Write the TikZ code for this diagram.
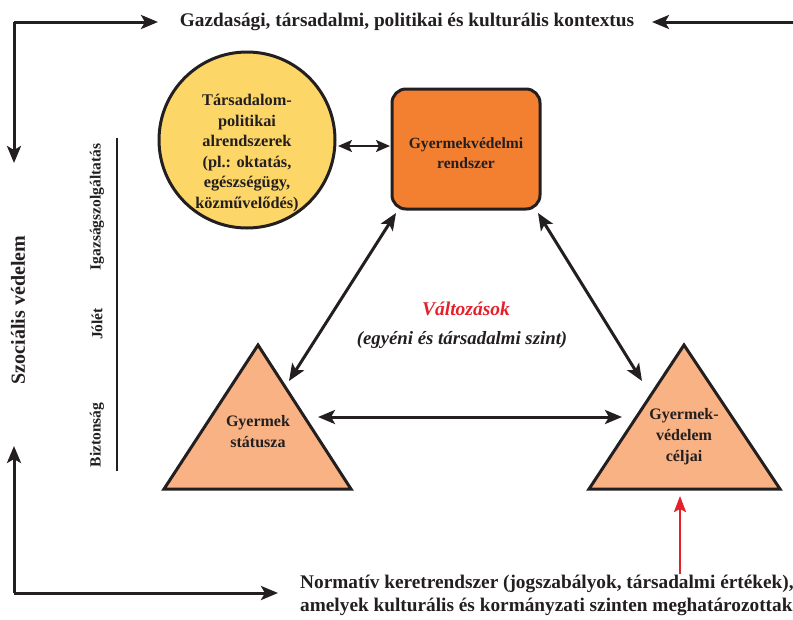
\documentclass[tikz,border=0pt]{standalone}
\usepackage{fontspec}
\setmainfont{Liberation Serif}
\usetikzlibrary{arrows.meta}
\definecolor{ink}{HTML}{231F20}
\definecolor{circfill}{HTML}{FDD668}
\definecolor{rectfill}{HTML}{F28030}
\definecolor{trifill}{HTML}{F8B283}
\definecolor{redc}{HTML}{E5202A}
\tikzset{
  tip/.tip={Stealth[length=17pt,width=14pt,inset=4pt]},
  conn/.style={draw=ink, line width=3pt, -tip},
  dconn/.style={draw=ink, line width=3pt, tip-tip},
  lbl/.style={text=ink, font=\fontsize{15}{19}\selectfont\bfseries, align=center, inner sep=0pt},
  vlbl/.style={text=ink, font=\fontsize{15.5}{16}\selectfont\bfseries, rotate=90, inner sep=0pt},
  tri/.style={draw=ink, line width=3pt, fill=trifill, line join=miter}
}
\begin{document}
\begin{tikzpicture}[x=1pt,y=-1pt]
\useasboundingbox (0,0) rectangle (793,619);
% top title
\node[lbl, font=\fontsize{19.3}{19}\selectfont\bfseries] (top) at (407,22) {Gazdasági, társadalmi, politikai és kulturális kontextus};
% frame arrows
\coordinate (tlc) at (14,22);
\coordinate (tla) at (158,22);
\coordinate (tld) at (14,163);
\coordinate (tre) at (793,22);
\coordinate (tra) at (652,22);
\coordinate (blc) at (14,593);
\coordinate (blu) at (14,446);
\coordinate (blr) at (278,593);
\draw[conn] (tlc) -- (tla);
\draw[conn] (tlc) -- (tld);
\draw[conn] (tre) -- (tra);
\draw[conn] (blc) -- (blu);
\draw[conn] (blc) -- (blr);
% left labels
\node[text=ink, font=\fontsize{20}{22}\selectfont\bfseries, rotate=90, inner sep=0pt] (szoc) at (18,310) {Szociális védelem};
\node[vlbl] (igaz) at (97,207) {Igazságszolgáltatás};
\node[vlbl] (jolet) at (97,324) {Jólét};
\node[vlbl] (bizt) at (97,435) {Biztonság};
\coordinate (rulet) at (117,138);
\coordinate (ruleb) at (117,471);
\draw[ink, line width=2.6pt] (rulet) -- (ruleb);
% circle
\node[circle, draw=ink, line width=3pt, fill=circfill, minimum size=176pt, inner sep=0pt] (circ) at (247,140) {};
\node[lbl, font=\fontsize{16.3}{20.5}\selectfont\bfseries] (circt) at (247,153) {Társadalom-\\politikai\\alrendszerek\\(pl.: oktatás,\\egészségügy,\\közművelődés)};
% rectangle
\node[draw=ink, line width=3pt, fill=rectfill, rounded corners=14pt, minimum width=148pt, minimum height=120pt, inner sep=0pt] (rect) at (466,149) {};
\node[lbl, font=\fontsize{15.6}{20}\selectfont\bfseries] (rectt) at (466,153) {Gyermekvédelmi\\rendszer};
% triangles
\coordinate (lta) at (258,345);
\coordinate (ltl) at (164,489);
\coordinate (ltr) at (351,489);
\draw[tri] (lta) -- (ltr) -- (ltl) -- cycle;
\coordinate (rta) at (684,345);
\coordinate (rtl) at (589,489);
\coordinate (rtr) at (780,489);
\draw[tri] (rta) -- (rtr) -- (rtl) -- cycle;
\node[lbl, font=\fontsize{16}{21}\selectfont\bfseries] (ltt) at (258,432) {Gyermek\\státusza};
\node[lbl, font=\fontsize{16}{21}\selectfont\bfseries] (rtt) at (684,437) {Gyermek-\\védelem\\céljai};
% centre text
\node[text=redc, font=\fontsize{19.5}{19}\selectfont\bfseries\itshape, inner sep=0pt] (valt) at (466,309) {Változások};
\node[text=ink, font=\fontsize{18.8}{19}\selectfont\bfseries\itshape, inner sep=0pt] (szint) at (462,340) {(egyéni és társadalmi szint)};
% connectors
\coordinate (cr1) at (338,146);
\coordinate (cr2) at (390,146);
\draw[draw=ink, line width=2.2pt, {Stealth[length=14pt,width=12pt,inset=3pt]}-{Stealth[length=14pt,width=12pt,inset=3pt]}] (cr1) -- (cr2);
\coordinate (d1a) at (396,213);
\coordinate (d1b) at (289,381);
\draw[dconn] (d1a) -- (d1b);
\coordinate (d2a) at (538,213);
\coordinate (d2b) at (642,381);
\draw[dconn] (d2a) -- (d2b);
\coordinate (h1) at (318,417);
\coordinate (h2) at (622,417);
\draw[dconn] (h1) -- (h2);
% red arrow
\coordinate (ra) at (680,574);
\coordinate (rb) at (680,496);
\draw[draw=redc, line width=2.6pt, -{Stealth[length=16pt,width=12pt,inset=3pt]}] (ra) -- (rb);
% bottom text
\node[text=ink, font=\fontsize{19.3}{23}\selectfont\bfseries, align=left, anchor=north west, inner sep=0pt] (bot) at (300,575) {Normatív keretrendszer (jogszabályok, társadalmi értékek),\\amelyek kulturális és kormányzati szinten meghatározottak};
\end{tikzpicture}
\end{document}
